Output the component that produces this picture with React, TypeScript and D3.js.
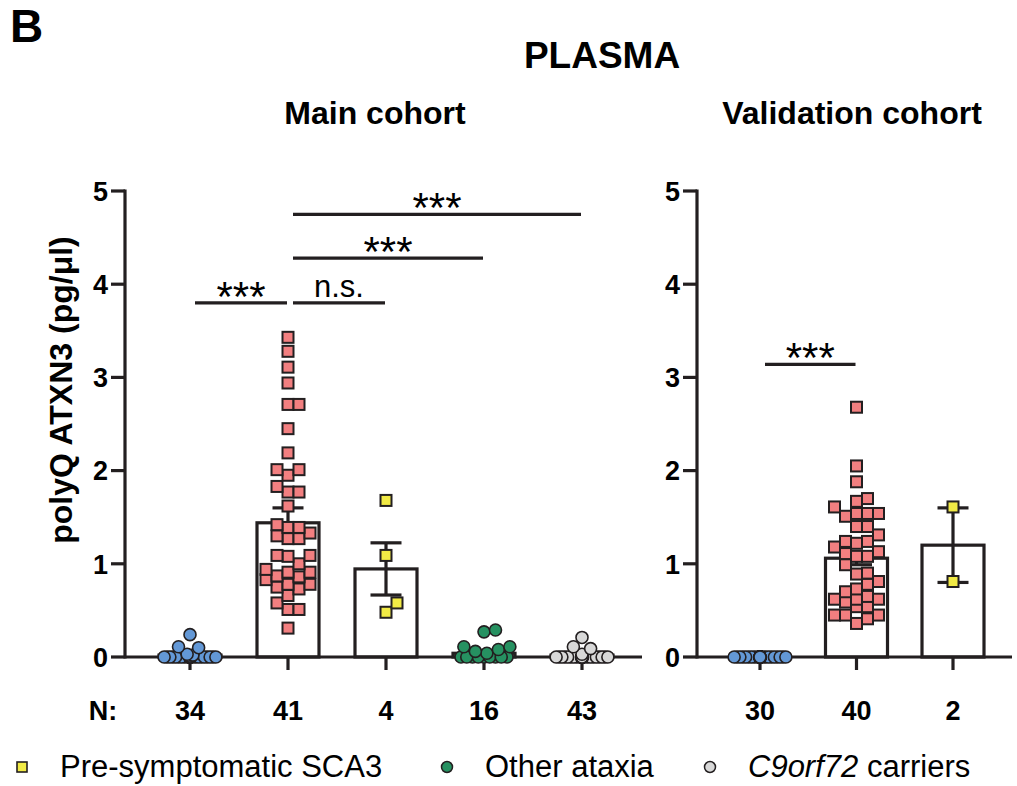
import React from 'react';
import * as d3 from 'd3';

// group names for each panel
const mainGroups = ['Controls', 'SCA3', 'Pre-symptomatic SCA3', 'Other ataxia', 'C9orf72 carriers'];
const valGroups = ['Controls', 'SCA3', 'Pre-symptomatic SCA3'];

// individual values, pg/ul
const controlsMain = [0.24, 0.11, 0.10, 0.03, 0.02, 0.01,
  0, 0, 0, 0, 0, 0, 0, 0, 0, 0, 0, 0, 0, 0, 0, 0, 0, 0, 0, 0, 0, 0, 0, 0, 0, 0, 0, 0];
const sca3Main = [3.43, 3.28, 3.11, 2.94, 2.71, 2.71, 2.45, 2.19, 2.01, 2.01, 1.95, 1.83, 1.77, 1.77,
  1.62, 1.42, 1.39, 1.39, 1.33, 1.30, 1.27, 1.27, 1.09, 1.09, 1.08, 1.00, 0.94, 0.91, 0.91, 0.87,
  0.86, 0.83, 0.78, 0.78, 0.75, 0.73, 0.66, 0.58, 0.51, 0.51, 0.31];
const presympMain = [1.68, 1.09, 0.58, 0.48];
const ataxiaMain = [0.29, 0.27, 0.11, 0.11, 0.08, 0.06, 0.04, 0, 0, 0, 0, 0, 0, 0, 0, 0];
const c9Main = [0.21, 0.11, 0.09, 0.03,
  0, 0, 0, 0, 0, 0, 0, 0, 0, 0, 0, 0, 0, 0, 0, 0, 0, 0, 0, 0, 0, 0, 0, 0, 0, 0, 0, 0, 0, 0, 0, 0, 0, 0, 0, 0, 0, 0, 0];

const controlsVal = [0, 0, 0, 0, 0, 0, 0, 0, 0, 0, 0, 0, 0, 0, 0, 0, 0, 0, 0, 0, 0, 0, 0, 0, 0, 0, 0, 0, 0, 0];
const sca3Val = [2.68, 2.05, 1.88, 1.70, 1.67, 1.61, 1.54, 1.54, 1.54, 1.51, 1.40, 1.40, 1.31, 1.24,
  1.24, 1.22, 1.18, 1.13, 1.11, 1.08, 1.08, 0.99, 0.90, 0.89, 0.81, 0.78, 0.73, 0.70, 0.65, 0.62,
  0.62, 0.62, 0.59, 0.54, 0.54, 0.45, 0.45, 0.45, 0.41, 0.36];
const presympVal = [1.61, 0.81];

// bar heights (mean) and error bars (SEM)
const mainMeans = [0.02, 1.44, 0.945, 0.04, 0.02];
const mainSem = [0.01, 0.16, 0.28, 0.02, 0.01];
const valMeans = [0, 1.06, 1.2];
const valSem = [0, 0.07, 0.4];

const yTicks = [0, 1, 2, 3, 4, 5];

const mainComparisons = [
  { a: 0, b: 1, y: 3.8, label: '***' },
  { a: 1, b: 2, y: 3.8, label: 'n.s.' },
  { a: 1, b: 3, y: 4.28, label: '***' },
  { a: 1, b: 4, y: 4.75, label: '***' },
];
const valComparisons = [{ a: 0, b: 1, y: 3.14, label: '***' }];

const groupStyle: Record<string, { shape: string; fill: string }> = {
  'Controls': { shape: 'circle', fill: '#6398d6' },
  'SCA3': { shape: 'square', fill: '#f27f80' },
  'Pre-symptomatic SCA3': { shape: 'square', fill: '#f1ea45' },
  'Other ataxia': { shape: 'circle', fill: '#269161' },
  'C9orf72 carriers': { shape: 'circle', fill: '#d8d8d8' },
};

const legendItems = ['Pre-symptomatic SCA3', 'Other ataxia', 'C9orf72 carriers'];

const INK = '#231f20';
const FONT = '"Liberation Sans", Arial, Helvetica, sans-serif';

const y = d3.scaleLinear().domain([0, 5]).range([657, 191]);
const xMain = d3.scalePoint<string>().domain(mainGroups).range([190, 582]);
const xVal = d3.scalePoint<string>().domain(valGroups).range([760, 953]);

// simple beeswarm: nearest free horizontal slot, else the least crowded one
function swarm(values: number[], size: number, maxOff: number, square: boolean) {
  const order = values.map((_, i) => i).sort((a, b) => values[a] - values[b]);
  const step = size / 4;
  const cands: number[] = [0];
  for (let k = 1; k * step <= maxOff; k++) cands.push(k * step, -k * step);
  const placed: { x: number; y: number }[] = [];
  const offs: number[] = new Array(values.length).fill(0);
  order.forEach(i => {
    const py = y(values[i]);
    let best = 0, bestD = -1;
    for (const c of cands) {
      let minD = Infinity;
      for (const p of placed) {
        const dx = Math.abs(p.x - c), dy = Math.abs(p.y - py);
        const d = square ? Math.max(dx, dy) : Math.hypot(dx, dy);
        if (d < minD) minD = d;
      }
      if (minD >= size * 0.95) { best = c; break; }
      if (minD > bestD) { bestD = minD; best = c; }
    }
    placed.push({ x: best, y: py });
    offs[i] = best;
  });
  return order.map(i => ({ v: values[i], dx: offs[i] }));
}

function Panel({ groups, data, means, sems, x, axisX, axisEnd, comparisons }: any) {
  const base = y(0);
  const barW = 62;
  return (
    <g>
      {/* bars */}
      {groups.map((g: string, i: number) => (
        <rect key={'b' + g} x={x(g) - barW / 2} y={y(means[i])} width={barW}
          height={base - y(means[i])} fill="#fff" stroke={INK} strokeWidth={3.2} />
      ))}
      {/* error bars */}
      {groups.map((g: string, i: number) => {
        const cx = x(g);
        const hi = y(means[i] + sems[i]);
        const lo = y(Math.max(0, means[i] - sems[i]));
        return (
          <g key={'e' + g} stroke={INK} strokeWidth={3.2}>
            <line x1={cx} x2={cx} y1={hi} y2={lo} />
            <line x1={cx - 15.5} x2={cx + 15.5} y1={hi} y2={hi} />
            <line x1={cx - 15.5} x2={cx + 15.5} y1={lo} y2={lo} />
          </g>
        );
      })}
      {/* axes */}
      <line x1={axisX} x2={axisX} y1={y(5)} y2={base} stroke={INK} strokeWidth={3.2} strokeLinecap="square" />
      <line x1={axisX} x2={axisEnd} y1={base} y2={base} stroke={INK} strokeWidth={3.2} />
      {yTicks.map(t => (
        <g key={'t' + t}>
          <line x1={axisX - 14} x2={axisX} y1={y(t)} y2={y(t)} stroke={INK} strokeWidth={3.2} />
          <text x={axisX - 17} y={y(t)} dy="0.36em" textAnchor="end" fontSize={27}
            fontWeight="bold" fontFamily={FONT} fill="#000">{t}</text>
        </g>
      ))}
      {groups.map((g: string) => (
        <line key={'xt' + g} x1={x(g)} x2={x(g)} y1={base} y2={base + 13} stroke={INK} strokeWidth={3.2} />
      ))}
      {/* points */}
      {groups.map((g: string, i: number) => {
        const st = groupStyle[g];
        const sq = st.shape === 'square';
        const pts = swarm(data[i], sq ? 11 : 11.5, sq ? 27 : 26, sq);
        return (
          <g key={'p' + g}>
            {pts.map((p, j) => sq ? (
              <rect key={j} x={x(g) + p.dx - 5.5} y={y(p.v) - 5.5} width={11} height={11}
                fill={st.fill} stroke={INK} strokeWidth={2} />
            ) : (
              <circle key={j} cx={x(g) + p.dx} cy={y(p.v)} r={6} fill={st.fill} stroke={INK} strokeWidth={1.6} />
            ))}
          </g>
        );
      })}
      {/* significance */}
      {comparisons.map((c: any, k: number) => {
        const x1 = x(groups[c.a]) + 5;
        const x2 = x(groups[c.b]) - 1;
        const yy = y(c.y);
        const star = c.label === '***';
        return (
          <g key={'c' + k}>
            <line x1={x1} x2={x2} y1={yy} y2={yy} stroke={INK} strokeWidth={3.2} />
            <text x={(x1 + x2) / 2} y={star ? yy + 8 : yy - 6} textAnchor="middle"
              fontSize={star ? 42 : 31} fontFamily={FONT} fill="#000">{c.label}</text>
          </g>
        );
      })}
      {/* N */}
      {groups.map((g: string, i: number) => (
        <text key={'n' + g} x={x(g)} y={720} textAnchor="middle" fontSize={27}
          fontWeight="bold" fontFamily={FONT} fill="#000">{data[i].length}</text>
      ))}
    </g>
  );
}

export default function App() {
  const legendX = [22, 447, 710];
  return (
    <svg width={1017} height={786} style={{ position: 'absolute', left: 0, top: 0, display: 'block', background: '#fff' }}>
      <text x={10} y={42} fontSize={46} fontWeight="bold" fontFamily={FONT}>B</text>
      <text x={602} y={68} fontSize={37} fontWeight="bold" fontFamily={FONT} textAnchor="middle">PLASMA</text>
      <text x={375} y={124} fontSize={32} fontWeight="bold" fontFamily={FONT} textAnchor="middle">Main cohort</text>
      <text x={852} y={124} fontSize={32} fontWeight="bold" fontFamily={FONT} textAnchor="middle">Validation cohort</text>
      <text transform="translate(72,390) rotate(-90)" textAnchor="middle" fontSize={32}
        fontWeight="bold" fontFamily={FONT}>polyQ ATXN3 (pg/μl)</text>

      <Panel groups={mainGroups} data={[controlsMain, sca3Main, presympMain, ataxiaMain, c9Main]}
        means={mainMeans} sems={mainSem} x={xMain} axisX={125} axisEnd={642} comparisons={mainComparisons} />
      <Panel groups={valGroups} data={[controlsVal, sca3Val, presympVal]}
        means={valMeans} sems={valSem} x={xVal} axisX={697} axisEnd={1012} comparisons={valComparisons} />

      <text x={103} y={720} textAnchor="middle" fontSize={27} fontWeight="bold" fontFamily={FONT}>N:</text>

      {legendItems.map((g, i) => {
        const st = groupStyle[g];
        const mx = legendX[i];
        return (
          <g key={'l' + g}>
            {st.shape === 'square'
              ? <rect x={mx - 5} y={762} width={10} height={10} fill={st.fill} stroke={INK} strokeWidth={1.6} />
              : <circle cx={mx} cy={767} r={5.5} fill={st.fill} stroke={INK} strokeWidth={1.5} />}
            <text x={mx + 38} y={777} fontSize={31} fontFamily={FONT} fill="#000">
              {g === 'C9orf72 carriers'
                ? <><tspan fontStyle="italic">C9orf72</tspan> carriers</>
                : g}
            </text>
          </g>
        );
      })}
    </svg>
  );
}
